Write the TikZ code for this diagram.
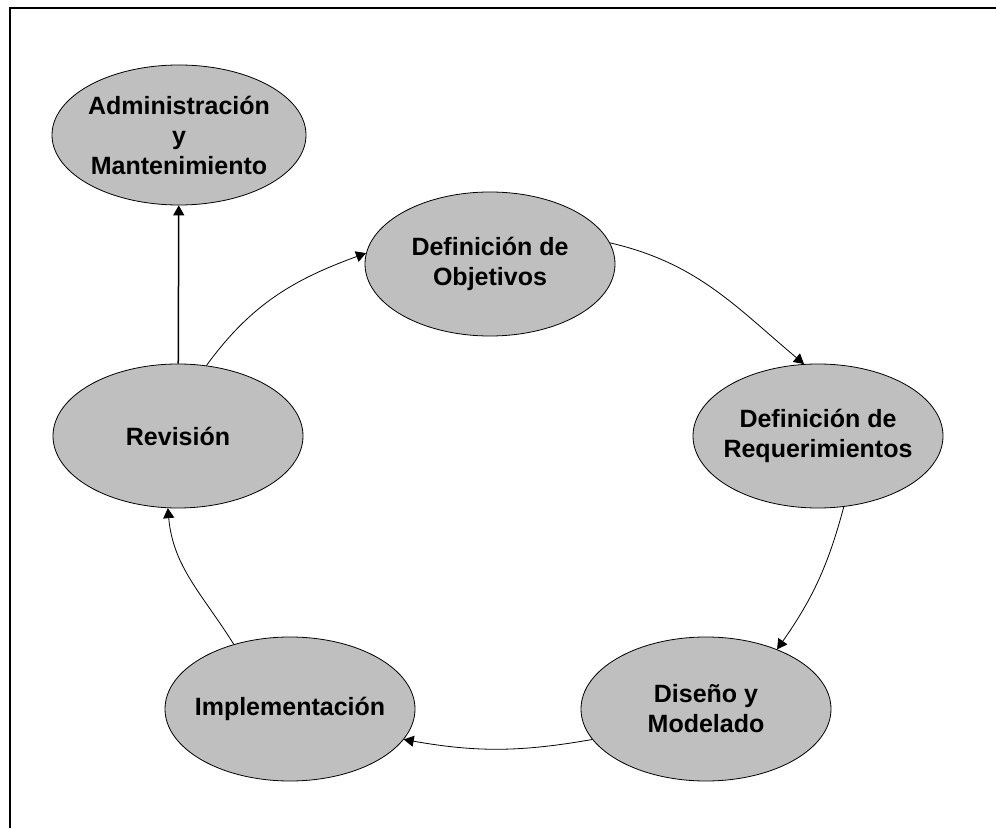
\documentclass[tikz,border=0pt]{standalone}
\usepackage{fontspec}
\setmainfont{Liberation Sans}
\usepackage{tikz}
\usetikzlibrary{shapes.geometric,arrows.meta}

\begin{document}
\begin{tikzpicture}[x=1pt, y=1pt, ->, >={Triangle[length=10pt,width=11pt]}, line width=0.8pt,
    fase/.style={ellipse, draw, fill=gray!50, line width=0.8pt, inner xsep=-30pt, inner ysep=0pt, minimum width=250pt, minimum height=144pt, align=center, font=\bfseries\fontsize{25}{30}\selectfont}]
        \useasboundingbox (0,0) rectangle (996,828);
        \draw[-, line width=2.5pt] (996,820) -- (10,820) -- (10,0);

        \node[fase, minimum width=254pt, minimum height=140pt] (adm) at (179,693) {Administración\\y\\Mantenimiento};
        \node[fase] (obj) at (490,564) {Definición de\\Objetivos};
        \node[fase] (req) at (818,392) {Definición de\\Requerimientos};
        \node[fase] (dis) at (706,119) {Diseño y\\Modelado};
        \node[fase] (imp) at (290,119) {Implementación};
        \node[fase] (rev) at (178,392) {Revisión};

        \path
        (rev) edge [line width=1.5pt] (adm)
        (rev.68) edge [out=54, in=200] (obj.175)
        (obj.10) edge [out=-13, in=140] (req.101)
        (req.-70) edge [out=-105, in=55] (dis.40)
        (dis.195) edge [out=190, in=-10] (imp.-15)
        (imp.131) edge [out=122, in=-85] (rev.-98);

    \end{tikzpicture}
\end{document}
